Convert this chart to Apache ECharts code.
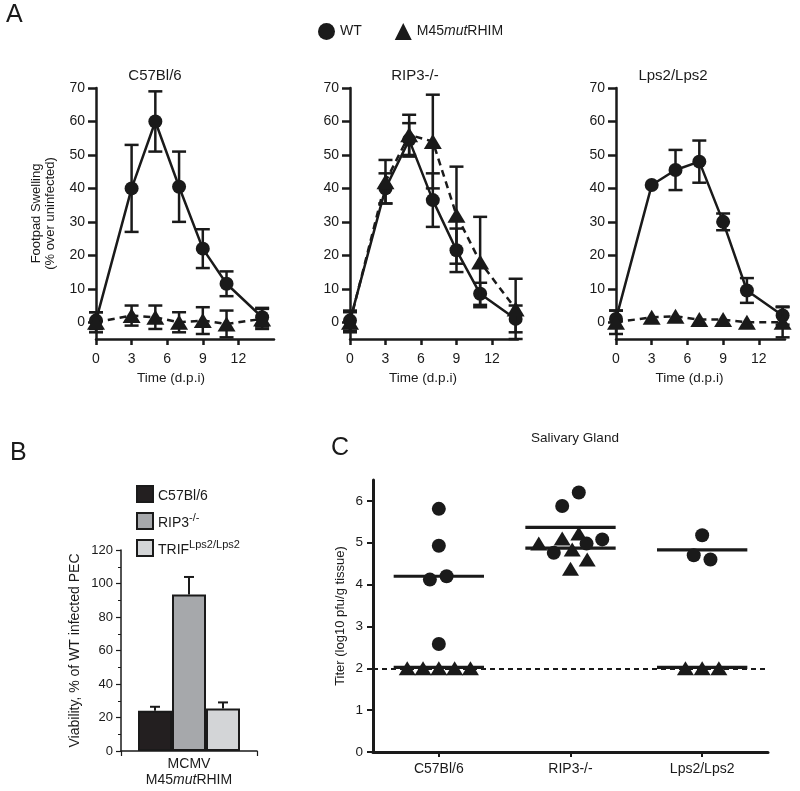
<!DOCTYPE html>
<html><head><meta charset="utf-8">
<script src="https://cdn.jsdelivr.net/npm/echarts@6/dist/echarts.min.js"></script>
<style>html,body{margin:0;padding:0;background:#fff}#c{width:800px;height:791px}</style>
</head><body><div id="c"></div>
<script>
// ---------- Panel A data ----------
const days = [0, 3, 5, 7, 9, 11, 14];
const xTicksA = [0, 3, 6, 9, 12];
const yTicksA = [0, 10, 20, 30, 40, 50, 60, 70];
const panelTitlesA = ['C57Bl/6', 'RIP3-/-', 'Lps2/Lps2'];
const wtC57 = [0.5, 40, 60, 40.5, 22, 11.5, 1.5];
const wtC57Err = [2.5, 13, 9, 10.5, 5.8, 3.7, 2.8];
const mutC57 = [0, 2, 1.5, 0, 0.5, -0.5, 1];
const mutC57Err = [3, 3, 3.5, 3, 4, 4, 3];
const wtRIP3 = [0.5, 40, 54.5, 36.5, 21.5, 8.5, 1];
const wtRIP3Err = [3, 4.5, 5, 8, 6.5, 3.3, 4];
const mutRIP3 = [0, 42, 56, 54, 32, 18, 4];
const mutRIP3Err = [3, 6.5, 6, 14, 14.5, 13.5, 9];
const wtLps2 = [1, 41, 45.5, 48, 30, 9.5, 2];
const wtLps2Err = [2.5, 0, 6, 6.3, 2.5, 3.7, 2.7];
const mutLps2 = [0, 1.5, 1.8, 0.8, 0.8, 0, 0];
const mutLps2Err = [3.5, 0, 0, 0, 0, 0, 4.5];

// ---------- Panel B data ----------
const bCategory = ['MCMV\nM45mutRHIM'];
const bGroups = ['C57Bl/6', 'RIP3-/-', 'TRIFLps2/Lps2'];
const bValues = [24, 93.4, 25.4];
const bErr = [2.4, 10.5, 3.6];

// ---------- Panel C data ----------
const cCategories = ['C57Bl/6', 'RIP3-/-', 'Lps2/Lps2'];
const cYTicks = [0, 1, 2, 3, 4, 5, 6];
const cWtGroup = [0, 0, 0, 0, 0, 1, 1, 1, 1, 1, 2, 2, 2];
const cWtJitter = [0, 0, -0.068, 0.059, 0, -0.063, 0.063, -0.127, 0.122, 0.241, 0, -0.064, 0.063];
const cWtTiter = [5.81, 4.93, 4.12, 4.2, 2.58, 5.88, 6.2, 4.76, 4.98, 5.08, 5.18, 4.7, 4.6];
const cMutGroup = [0, 0, 0, 0, 0, 1, 1, 1, 1, 1, 1, 2, 2, 2];
const cMutJitter = [-0.24, -0.12, 0, 0.12, 0.24, -0.241, -0.063, 0.063, 0.013, 0.127, 0, -0.127, 0, 0.127];
const cMutTiter = [2.0, 2.0, 2.0, 2.0, 2.0, 4.98, 5.1, 5.22, 4.84, 4.6, 4.38, 2.0, 2.0, 2.0];
const cWtMean = [4.2, 5.37, 4.83];
const cMutMean = [2.02, 4.87, 2.02];
const cDetectionLimit = 2;

// ---------- Chart ----------
const INK = '#1a1a1a';
const FONT = 'Liberation Sans, Arial, sans-serif';
const chart = echarts.init(document.getElementById('c'), null, {renderer: 'canvas'});

function errRender(cap, lw, topOnly, offsets) {
  return function (params, api) {
    const x = api.value(0), y = api.value(1), e = api.value(2);
    if (!e) return null;
    const off = offsets ? offsets[params.dataIndex] : 0;
    const hi = api.coord([x, y + e]);
    const lo = topOnly ? api.coord([x, y]) : api.coord([x, y - e]);
    const s = {stroke: INK, lineWidth: lw};
    const ch = [
      {type: 'line', shape: {x1: hi[0] + off, y1: hi[1], x2: lo[0] + off, y2: lo[1]}, style: s},
      {type: 'line', shape: {x1: hi[0] + off - cap, y1: hi[1], x2: hi[0] + off + cap, y2: hi[1]}, style: s}
    ];
    if (!topOnly) ch.push({type: 'line', shape: {x1: lo[0] - cap, y1: lo[1], x2: lo[0] + cap, y2: lo[1]}, style: s});
    return {type: 'group', children: ch};
  };
}

const gridsA = [
  {left: 96, top: 88, width: 178, height: 251},
  {left: 350, top: 88, width: 168, height: 251},
  {left: 616, top: 88, width: 169, height: 251}
];
const xMaxA = [15, 14.2, 14.2];
const nameShiftA = [28, 22, 22];
const panelData = [
  [wtC57, wtC57Err, mutC57, mutC57Err],
  [wtRIP3, wtRIP3Err, mutRIP3, mutRIP3Err],
  [wtLps2, wtLps2Err, mutLps2, mutLps2Err]
];

const grid = gridsA.concat([
  {left: 121, top: 550, width: 136, height: 201},
  {left: 373, top: 480, width: 395, height: 272}
]);

const xAxis = [], yAxis = [], series = [];
const axisLineA = {show: true, onZero: false, lineStyle: {color: INK, width: 2.5}};
for (let i = 0; i < 3; i++) {
  xAxis.push({
    type: 'value', gridIndex: i, min: 0, max: xMaxA[i],
    axisLine: axisLineA,
    axisTick: {show: true, customValues: xTicksA, length: 6, lineStyle: {color: INK, width: 2.5}},
    axisLabel: {customValues: xTicksA, fontSize: 14, color: INK, margin: 13, fontFamily: FONT},
    splitLine: {show: false},
    name: 'Time (d.p.i)', nameLocation: 'middle', nameGap: 32,
    nameTextStyle: {fontSize: 13.5, color: INK, fontFamily: FONT, padding: [0, nameShiftA[i], 0, 0]}
  });
  yAxis.push({
    type: 'value', gridIndex: i, min: -5, max: 70,
    axisLine: axisLineA,
    axisTick: {show: true, customValues: yTicksA, length: 8, lineStyle: {color: INK, width: 2.5}},
    axisLabel: {customValues: yTicksA, fontSize: 14, color: INK, margin: 11, fontFamily: FONT},
    splitLine: {show: false},
    name: i === 0 ? 'Footpad Swelling\n(% over uninfected)' : '',
    nameLocation: 'middle', nameGap: 39,
    nameTextStyle: {fontSize: 13, color: INK, lineHeight: 14, fontFamily: FONT}
  });
  const [wt, wtE, mut, mutE] = panelData[i];
  series.push({
    name: 'WT', type: 'line', xAxisIndex: i, yAxisIndex: i, z: 3,
    data: days.map((d, j) => [d, wt[j]]),
    symbol: 'circle', symbolSize: 14,
    lineStyle: {color: INK, width: 2.5}, itemStyle: {color: INK}
  });
  series.push({
    name: 'errWT' + i, type: 'custom', xAxisIndex: i, yAxisIndex: i, z: 3,
    data: days.map((d, j) => [d, wt[j], wtE[j]]),
    encode: {x: 0, y: 1}, renderItem: errRender(7, 2.5, false), clip: false
  });
  series.push({
    name: 'M45mutRHIM', type: 'line', xAxisIndex: i, yAxisIndex: i, z: 4,
    data: days.map((d, j) => [d, mut[j]]),
    symbol: 'triangle', symbolSize: [18, 15],
    lineStyle: {color: INK, width: 2.5, type: [7, 5]}, itemStyle: {color: INK}
  });
  series.push({
    name: 'errMut' + i, type: 'custom', xAxisIndex: i, yAxisIndex: i, z: 4,
    data: days.map((d, j) => [d, mut[j], mutE[j]]),
    encode: {x: 0, y: 1}, renderItem: errRender(7, 2.5, false), clip: false
  });
}

// Panel B axes
xAxis.push({
  type: 'category', gridIndex: 3, data: bCategory,
  axisLine: {lineStyle: {color: INK, width: 1.5}},
  axisTick: {show: true, length: 5, lineStyle: {color: INK, width: 1.2}},
  axisLabel: {
    color: INK, fontSize: 14, margin: 5, fontFamily: FONT, lineHeight: 16,
    formatter: () => '{n|MCMV}\n{n|M45}{i|mut}{n|RHIM}',
    rich: {n: {fontSize: 14, fontFamily: FONT, color: INK, lineHeight: 16},
           i: {fontSize: 14, fontFamily: FONT, color: INK, fontStyle: 'italic', lineHeight: 16}}
  }
});
yAxis.push({
  type: 'value', gridIndex: 3, min: 0, max: 120, interval: 20,
  axisLine: {show: true, lineStyle: {color: INK, width: 1.5}},
  axisTick: {show: true, length: 5, lineStyle: {color: INK, width: 1.2}},
  minorTick: {show: true, splitNumber: 2, length: 3, lineStyle: {color: INK, width: 1}},
  axisLabel: {fontSize: 13, color: INK, margin: 8, fontFamily: FONT},
  splitLine: {show: false},
  name: 'Viability, % of WT infected PEC', nameLocation: 'middle', nameGap: 39,
  nameTextStyle: {fontSize: 14, color: INK, fontFamily: FONT}
});
const bColors = ['#231f20', '#a6a8ab', '#d3d5d7'];
bGroups.forEach((g, k) => {
  series.push({
    name: g, type: 'bar', xAxisIndex: 3, yAxisIndex: 3,
    data: [bValues[k]], barWidth: 34, barGap: '0%',
    itemStyle: {color: bColors[k], borderColor: INK, borderWidth: 2}
  });
});
series.push({
  name: 'errB', type: 'custom', xAxisIndex: 3, yAxisIndex: 3, z: 5,
  data: bGroups.map((g, k) => [0, bValues[k], bErr[k]]),
  encode: {x: 0, y: 1},
  renderItem: errRender(5, 2, true, [-34, 0, 34]), clip: false
});

// Panel C axes
xAxis.push({
  type: 'category', gridIndex: 4, data: cCategories,
  axisLine: {lineStyle: {color: INK, width: 3}},
  axisTick: {show: true, alignWithLabel: true, length: 5, lineStyle: {color: INK, width: 2}},
  axisLabel: {fontSize: 14, color: INK, margin: 10, fontFamily: FONT}
});
xAxis.push({type: 'value', gridIndex: 4, min: -0.5, max: 2.5, show: false});
yAxis.push({
  type: 'value', gridIndex: 4, min: 0, max: 6.5,
  axisLine: {show: true, onZero: false, lineStyle: {color: INK, width: 3}},
  axisTick: {show: true, customValues: cYTicks, length: 6, lineStyle: {color: INK, width: 2}},
  axisLabel: {customValues: cYTicks, fontSize: 13.5, color: INK, margin: 10, fontFamily: FONT},
  splitLine: {show: false},
  name: 'Titer (log10 pfu/g tissue)', nameLocation: 'middle', nameGap: 26,
  nameTextStyle: {fontSize: 13, color: INK, fontFamily: FONT}
});
function meanRender(params, api) {
  const g = api.value(0), m = api.value(1);
  const p1 = api.coord([g - 0.343, m]), p2 = api.coord([g + 0.343, m]);
  return {type: 'line', shape: {x1: p1[0], y1: p1[1], x2: p2[0], y2: p2[1]}, style: {stroke: INK, lineWidth: 3.2}};
}
series.push({
  name: 'detection', type: 'line', xAxisIndex: 5, yAxisIndex: 4, data: [],
  markLine: {silent: true, symbol: ['none', 'none'], label: {show: false},
    lineStyle: {color: INK, width: 2, type: [5, 4]}, data: [{yAxis: cDetectionLimit}]}
});
series.push({
  name: 'meanWT', type: 'custom', xAxisIndex: 5, yAxisIndex: 4, z: 2,
  data: cWtMean.map((m, g) => [g, m]), encode: {x: 0, y: 1}, renderItem: meanRender
});
series.push({
  name: 'meanMut', type: 'custom', xAxisIndex: 5, yAxisIndex: 4, z: 2,
  data: cMutMean.map((m, g) => [g, m]), encode: {x: 0, y: 1}, renderItem: meanRender
});
series.push({
  name: 'WT', type: 'scatter', xAxisIndex: 5, yAxisIndex: 4, z: 3,
  data: cWtGroup.map((g, i) => [g + cWtJitter[i], cWtTiter[i]]),
  symbol: 'circle', symbolSize: 14, itemStyle: {color: INK, opacity: 1}
});
series.push({
  name: 'M45mutRHIM', type: 'scatter', xAxisIndex: 5, yAxisIndex: 4, z: 3,
  data: cMutGroup.map((g, i) => [g + cMutJitter[i], cMutTiter[i]]),
  symbol: 'triangle', symbolSize: [17, 14], itemStyle: {color: INK, opacity: 1}
});

const titleStyle = {fontSize: 15, fontWeight: 'normal', color: INK, fontFamily: FONT};
const letterStyle = {fontSize: 25, fontWeight: 'normal', color: INK, fontFamily: FONT};
const option = {
  animation: false,
  textStyle: {fontFamily: FONT, color: INK},
  title: [
    {text: 'A', left: 6, top: 3, textStyle: letterStyle, padding: 0},
    {text: panelTitlesA[0], left: 155, top: 68, textAlign: 'center', textStyle: titleStyle, padding: 0},
    {text: panelTitlesA[1], left: 415, top: 68, textAlign: 'center', textStyle: titleStyle, padding: 0},
    {text: panelTitlesA[2], left: 673, top: 68, textAlign: 'center', textStyle: titleStyle, padding: 0},
    {text: 'B', left: 10, top: 441, textStyle: letterStyle, padding: 0},
    {text: 'C', left: 331, top: 436, textStyle: letterStyle, padding: 0},
    {text: 'Salivary Gland', left: 575, top: 431, textAlign: 'center', textStyle: {fontSize: 13.5, fontWeight: 'normal', color: INK, fontFamily: FONT}, padding: 0}
  ],
  legend: [
    {
      left: 318, top: 23, padding: 0, itemGap: 33, itemWidth: 17, itemHeight: 17, selectedMode: false,
      data: [{name: 'WT', icon: 'circle'}, {name: 'M45mutRHIM', icon: 'triangle'}],
      formatter: n => n === 'M45mutRHIM' ? '{n|M45}{i|mut}{n|RHIM}' : '{n|' + n + '}',
      textStyle: {fontSize: 14, color: INK, fontFamily: FONT,
        rich: {n: {fontSize: 14, color: INK, fontFamily: FONT}, i: {fontSize: 14, color: INK, fontFamily: FONT, fontStyle: 'italic'}}},
      itemStyle: {color: INK}
    },
    {
      orient: 'vertical', left: 136, top: 485, padding: 0, itemGap: 9, itemWidth: 16, itemHeight: 16, selectedMode: false,
      icon: 'rect',
      data: bGroups,
      formatter: n => n === 'RIP3-/-' ? '{n|RIP3}{s|-/-}' : n === 'TRIFLps2/Lps2' ? '{n|TRIF}{s|Lps2/Lps2}' : '{n|' + n + '}',
      textStyle: {fontSize: 14, color: INK, fontFamily: FONT,
        rich: {n: {fontSize: 14, color: INK, fontFamily: FONT, lineHeight: 18, verticalAlign: 'bottom'},
               s: {fontSize: 11, color: INK, fontFamily: FONT, lineHeight: 18, verticalAlign: 'top', padding: [0, 0, 6, 0]}}}
    }
  ],
  grid: grid,
  xAxis: xAxis,
  yAxis: yAxis,
  series: series
};
chart.setOption(option);
</script>
</body></html>
